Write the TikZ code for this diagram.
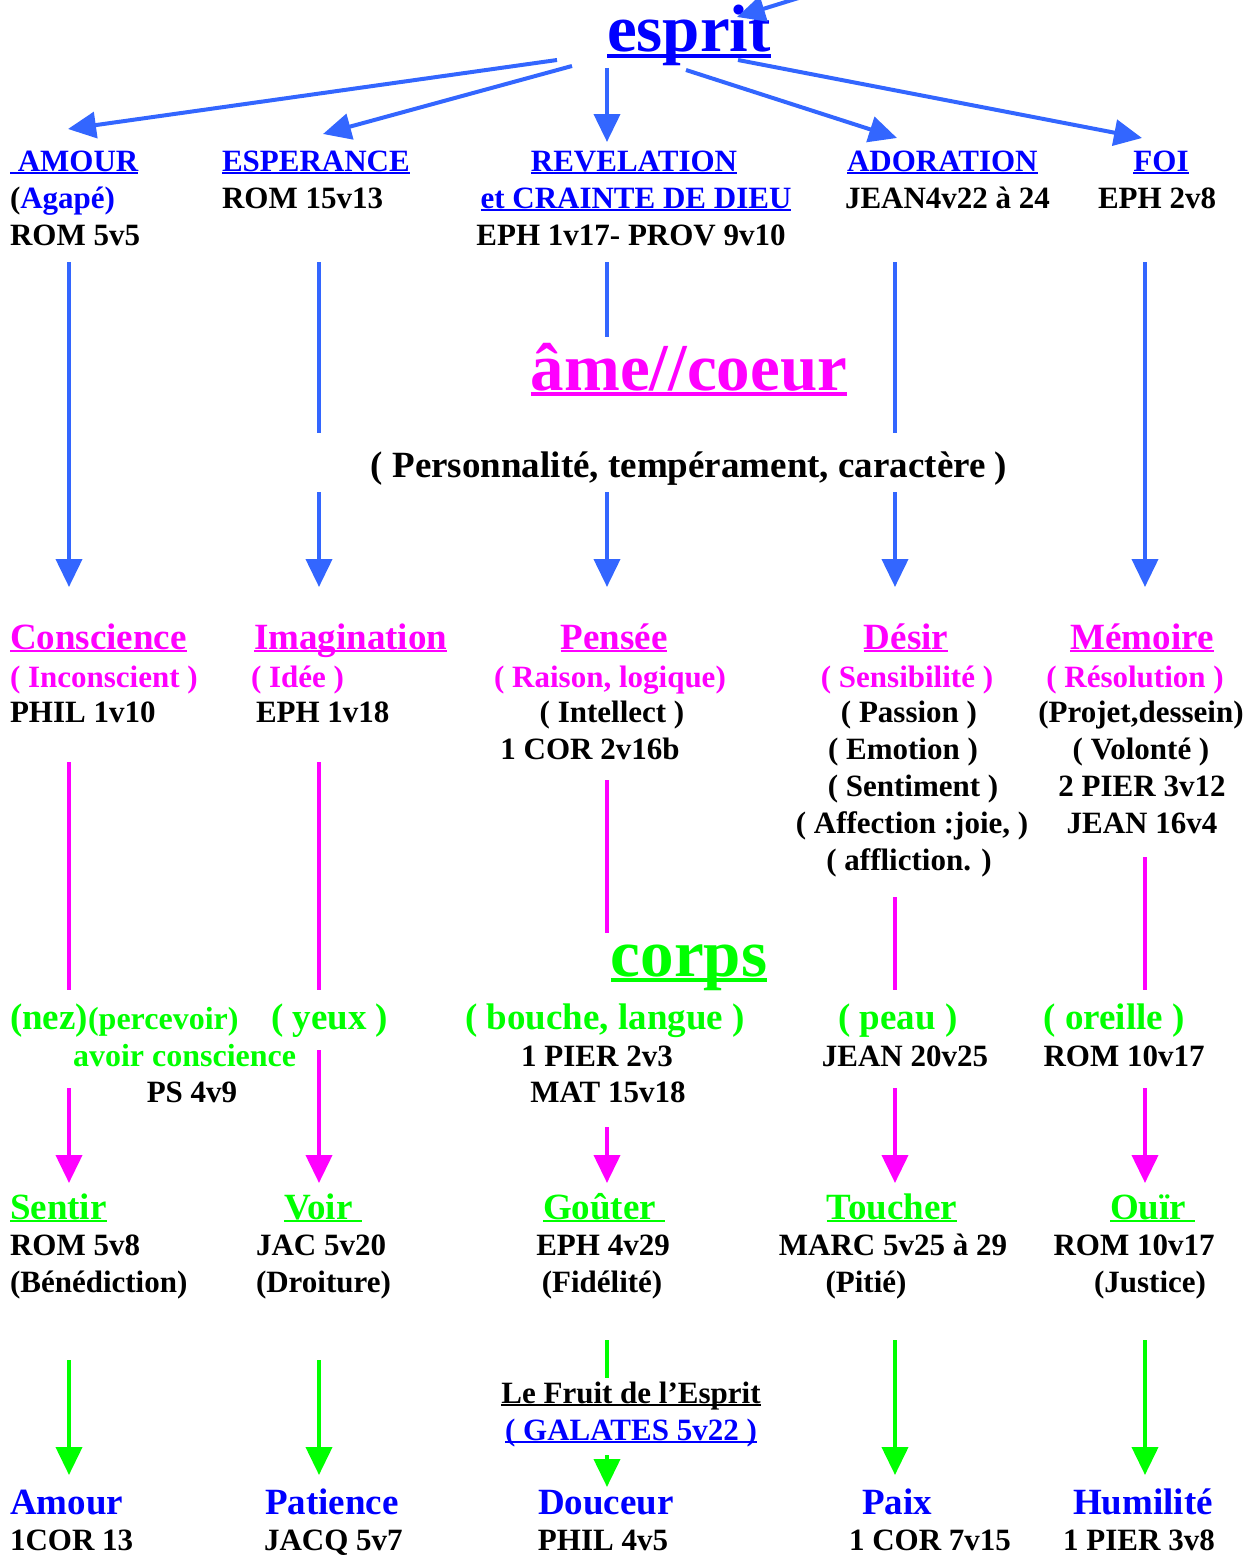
\documentclass[tikz,border=0pt]{standalone}
\usepackage{fontspec}
\setmainfont{Liberation Serif}
\usetikzlibrary{arrows.meta}
\definecolor{tblue}{HTML}{0000FF}
\definecolor{ablue}{HTML}{3366FF}
\definecolor{mag}{HTML}{FF00FF}
\definecolor{grn}{HTML}{00FF00}
\newsavebox\ulbox
\newcommand\myul[1]{\sbox\ulbox{#1}\rlap{\rule[-0.09em]{\wd\ulbox}{0.065em}}\usebox\ulbox}
\begin{document}
\begin{tikzpicture}[x=1pt,y=-1pt,
  every node/.style={inner sep=0pt,outer sep=0pt},
  lt/.style={anchor=base west,font=\fontsize{31}{37}\selectfont\bfseries},
  ct/.style={anchor=base,font=\fontsize{31}{37}\selectfont\bfseries},
  head/.style={font=\fontsize{37}{44}\selectfont\bfseries},
  big/.style={font=\fontsize{67}{80}\selectfont\bfseries},
  barrow/.style={draw=ablue,line width=4pt,-{Triangle[width=26pt,length=28pt]}},
  bline/.style={draw=ablue,line width=4pt},
  marrow/.style={draw=mag,line width=4pt,-{Triangle[width=26pt,length=28pt]}},
  mline/.style={draw=mag,line width=4pt},
  garrow/.style={draw=grn,line width=4pt,-{Triangle[width=26pt,length=28pt]}},
  gline/.style={draw=grn,line width=4pt}]
\useasboundingbox (0,0) rectangle (1255,1555);

% ---- esprit level
\node[ct,big,text=tblue] (esprit) at (689,52) {\myul{esprit}};
\node[lt,text=tblue] (amourH) at (10,171) {\myul{\ AMOUR}};
\node[lt,text=tblue] (esperH) at (222,171) {\myul{ESPERANCE}};
\node[ct,text=tblue] (revH) at (634,171) {\myul{REVELATION}};
\node[lt,text=tblue] (adorH) at (847,171) {\myul{ADORATION}};
\node[ct,text=tblue] (foiH) at (1161,171) {\myul{FOI}};
\node[lt] (agape) at (10,208) {(\textcolor{tblue}{Agapé)}};
\node[lt] (rom1513) at (222,208) {ROM 15v13};
\node[ct,text=tblue] (crainte) at (636,208) {\myul{et CRAINTE DE DIEU}};
\node[lt] (jean4) at (845,208) {JEAN4v22 à 24};
\node[lt] (eph28) at (1098,208) {EPH 2v8};
\node[lt] (rom55) at (10,245) {ROM 5v5};
\node[ct] (eph117) at (631,245) {EPH 1v17- PROV 9v10};

% ---- ame level
\node[ct,big,text=mag] (ame) at (689,390) {\myul{âme//coeur}};
\node[ct,head] (perso) at (689,477) {( Personnalité, tempérament, caractère )};

\node[lt,head,text=mag] (consc) at (10,649) {\myul{Conscience}};
\node[lt,head,text=mag] (imag) at (254,649) {\myul{Imagination}};
\node[ct,head,text=mag] (pensee) at (614,649) {\myul{Pensée}};
\node[ct,head,text=mag] (desir) at (906,649) {\myul{Désir}};
\node[ct,head,text=mag] (memoire) at (1142,649) {\myul{Mémoire}};

\node[lt,text=mag] (incon) at (10,687) {( Inconscient )};
\node[lt,text=mag] (idee) at (251,687) {( Idée )};
\node[ct,text=mag] (raison) at (610,687) {( Raison, logique)};
\node[ct,text=mag] (sensi) at (907,687) {( Sensibilité )};
\node[ct,text=mag] (resol) at (1135,687) {( Résolution )};

\node[lt] (phil110) at (10,722) {PHIL 1v10};
\node[lt] (eph118) at (256,722) {EPH 1v18};
\node[ct] (intel) at (612,722) {( Intellect )};
\node[ct] (passion) at (909,722) {( Passion )};
\node[ct] (projet) at (1141,722) {(Projet,dessein)};

\node[ct] (cor216) at (590,759) {1 COR 2v16b};
\node[ct] (emotion) at (903,759) {( Emotion )};
\node[ct] (volonte) at (1141,759) {( Volonté )};
\node[ct] (sentim) at (913,796) {( Sentiment )};
\node[ct] (pier312) at (1142,796) {2 PIER 3v12};
\node[ct] (affect) at (912,833) {( Affection :joie, )};
\node[ct] (jean164) at (1142,833) {JEAN 16v4};
\node[ct] (afflic) at (909,870) {( affliction. )};

% ---- corps level
\node[ct,big,text=grn] (corps) at (689,976) {\myul{corps}};
\node[lt,head,text=grn] (nez) at (10,1029) {(nez){\fontsize{32}{38}\selectfont(percevoir)}};
\node[lt,head,text=grn] (yeux) at (271,1029) {( yeux )};
\node[ct,head,text=grn] (bouche) at (605,1029) {( bouche, langue )};
\node[ct,head,text=grn] (peau) at (898,1029) {( peau )};
\node[ct,head,text=grn] (oreille) at (1114,1029) {( oreille )};

\node[lt,text=grn,font=\fontsize{32}{38}\selectfont\bfseries] (avoir) at (73,1066) {avoir conscience};
\node[ct] (pier23) at (597,1066) {1 PIER 2v3};
\node[ct] (jean2025) at (905,1066) {JEAN 20v25};
\node[ct] (rom1017a) at (1124,1066) {ROM 10v17};
\node[ct] (ps49) at (192,1102) {PS 4v9};
\node[ct] (mat1518) at (608,1102) {MAT 15v18};

\node[lt,head,text=grn] (sentir) at (10,1219) {\myul{Sentir}};
\node[lt,head,text=grn] (voir) at (284,1219) {\myul{Voir\ }};
\node[lt,head,text=grn] (gouter) at (543,1219) {\myul{Goûter\ }};
\node[ct,head,text=grn] (toucher) at (892,1219) {\myul{Toucher}};
\node[lt,head,text=grn] (ouir) at (1110,1219) {\myul{Ouïr\ }};

\node[lt] (rom58) at (10,1255) {ROM 5v8};
\node[lt] (jac520) at (256,1255) {JAC 5v20};
\node[ct] (eph429) at (603,1255) {EPH 4v29};
\node[ct] (marc) at (893,1255) {MARC 5v25 à 29};
\node[ct] (rom1017b) at (1134,1255) {ROM 10v17};

\node[lt] (bened) at (10,1292) {(Bénédiction)};
\node[lt] (droit) at (256,1292) {(Droiture)};
\node[ct] (fidel) at (602,1292) {(Fidélité)};
\node[ct] (pitie) at (866,1292) {(Pitié)};
\node[ct] (justice) at (1150,1292) {(Justice)};

\node[ct] (fruit) at (631,1403) {\myul{Le Fruit de l’Esprit}};
\node[ct,text=tblue] (galates) at (631,1440) {\myul{( GALATES 5v22 )}};

\node[lt,head,text=tblue] (amourB) at (10,1514) {Amour};
\node[lt,head,text=tblue] (patience) at (265,1514) {Patience};
\node[ct,head,text=tblue] (douceur) at (606,1514) {Douceur};
\node[ct,head,text=tblue] (paix) at (897,1514) {Paix};
\node[ct,head,text=tblue] (humil) at (1143,1514) {Humilité};

\node[lt] (cor13) at (10,1550) {1COR 13};
\node[lt] (jacq57) at (264,1550) {JACQ 5v7};
\node[ct] (phil45) at (603,1550) {PHIL 4v5};
\node[ct] (cor715) at (930,1550) {1 COR 7v15};
\node[ct] (pier38) at (1139,1550) {1 PIER 3v8};

% ---- coordinates for connector ends
\coordinate (inS) at (805,-4);  \coordinate (inE) at (737,17);
\coordinate (s1) at (557,60);   \coordinate (t1) at (68,129);
\coordinate (s2) at (572,66);   \coordinate (t2) at (323,134);
\coordinate (s3) at (607,68);   \coordinate (t3) at (607,142);
\coordinate (s4) at (686,70);   \coordinate (t4) at (897,138);
\coordinate (s5) at (738,60);   \coordinate (t5) at (1142,138);

\coordinate (b1a) at (69,262);   \coordinate (b1b) at (69,587);
\coordinate (b2a) at (319,262);  \coordinate (b2b) at (319,433);
\coordinate (b2c) at (319,492);  \coordinate (b2d) at (319,587);
\coordinate (b3a) at (607,262);  \coordinate (b3b) at (607,337);
\coordinate (b3c) at (607,492);  \coordinate (b3d) at (607,587);
\coordinate (b4a) at (895,262);  \coordinate (b4b) at (895,433);
\coordinate (b4c) at (895,492);  \coordinate (b4d) at (895,587);
\coordinate (b5a) at (1145,262); \coordinate (b5b) at (1145,587);

\coordinate (m1a) at (69,762);   \coordinate (m1b) at (69,990);
\coordinate (m1c) at (69,1088);  \coordinate (m1d) at (69,1183);
\coordinate (m2a) at (319,762);  \coordinate (m2b) at (319,990);
\coordinate (m2c) at (319,1050); \coordinate (m2d) at (319,1183);
\coordinate (m3a) at (607,780);  \coordinate (m3b) at (607,933);
\coordinate (m3c) at (607,1127); \coordinate (m3d) at (607,1183);
\coordinate (m4a) at (895,897);  \coordinate (m4b) at (895,990);
\coordinate (m4c) at (895,1088); \coordinate (m4d) at (895,1183);
\coordinate (m5a) at (1145,857); \coordinate (m5b) at (1145,990);
\coordinate (m5c) at (1145,1088);\coordinate (m5d) at (1145,1183);

\coordinate (g1a) at (69,1360);  \coordinate (g1b) at (69,1475);
\coordinate (g2a) at (319,1360); \coordinate (g2b) at (319,1475);
\coordinate (g3a) at (607,1340); \coordinate (g3b) at (607,1378);
\coordinate (g3c) at (607,1455); \coordinate (g3d) at (607,1487);
\coordinate (g4a) at (895,1340); \coordinate (g4b) at (895,1475);
\coordinate (g5a) at (1145,1340);\coordinate (g5b) at (1145,1475);

% ---- blue connectors
\draw[barrow] (inS) -- (inE);
\draw[barrow] (s1) -- (t1);
\draw[barrow] (s2) -- (t2);
\draw[barrow] (s3) -- (t3);
\draw[barrow] (s4) -- (t4);
\draw[barrow] (s5) -- (t5);
\draw[barrow] (b1a) -- (b1b);
\draw[bline] (b2a) -- (b2b);  \draw[barrow] (b2c) -- (b2d);
\draw[bline] (b3a) -- (b3b);  \draw[barrow] (b3c) -- (b3d);
\draw[bline] (b4a) -- (b4b);  \draw[barrow] (b4c) -- (b4d);
\draw[barrow] (b5a) -- (b5b);

% ---- magenta connectors
\draw[mline] (m1a) -- (m1b);  \draw[marrow] (m1c) -- (m1d);
\draw[mline] (m2a) -- (m2b);  \draw[marrow] (m2c) -- (m2d);
\draw[mline] (m3a) -- (m3b);  \draw[marrow] (m3c) -- (m3d);
\draw[mline] (m4a) -- (m4b);  \draw[marrow] (m4c) -- (m4d);
\draw[mline] (m5a) -- (m5b);  \draw[marrow] (m5c) -- (m5d);

% ---- green connectors
\draw[garrow] (g1a) -- (g1b);
\draw[garrow] (g2a) -- (g2b);
\draw[gline] (g3a) -- (g3b);  \draw[garrow] (g3c) -- (g3d);
\draw[garrow] (g4a) -- (g4b);
\draw[garrow] (g5a) -- (g5b);
\end{tikzpicture}
\end{document}
